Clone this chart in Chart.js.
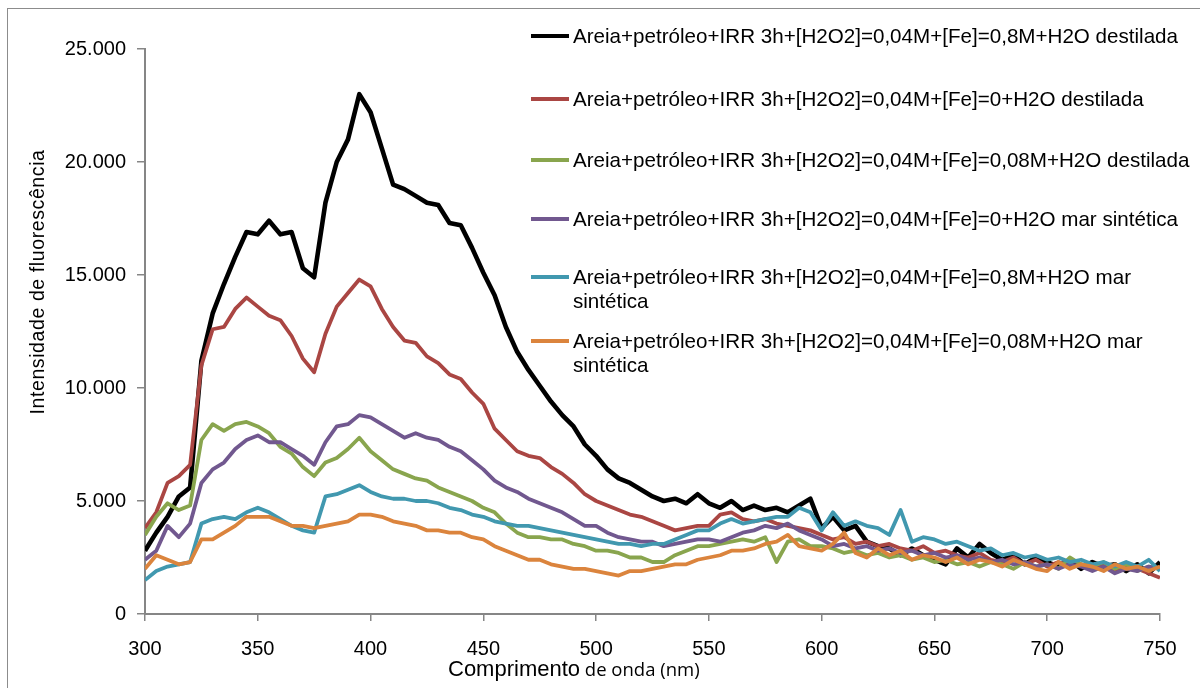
<!DOCTYPE html>
<html>
<head>
<meta charset="utf-8">
<script src="https://cdn.jsdelivr.net/npm/chart.js@4.4.0/dist/chart.umd.min.js"></script>
<style>
body{margin:0;background:#fff;}
#wrap{position:relative;width:1200px;height:688px;overflow:hidden;font-family:"Liberation Sans",Arial,sans-serif;}
#frame{position:absolute;left:7px;top:8px;width:1210px;height:700px;border:1.5px solid #8c8c8c;box-sizing:border-box;}
#chart{position:absolute;left:0;top:0;}
#legend{position:absolute;left:0;top:0;}
.item{position:absolute;left:531px;display:flex;align-items:flex-start;}
.swatch{width:38px;height:4px;margin-top:10px;margin-right:4px;flex:none;}
.lbl{font-size:20.6px;line-height:24px;width:622px;color:#000;}
#ytitle{position:absolute;left:-113px;top:270px;width:300px;text-align:center;font-size:19.5px;letter-spacing:0.6px;line-height:24px;transform:rotate(-90deg);color:#000;}
#xtitle{position:absolute;left:448px;top:656px;line-height:26px;white-space:nowrap;color:#000;}
#xtitle .a{font-size:22px;}
#xtitle .b{font-family:"Open Sans",sans-serif;font-size:18.5px;}
</style>
</head>
<body>
<div id="wrap">
  <div id="frame"></div>
  <canvas id="chart" width="1200" height="688"></canvas>
  <div id="legend"></div>
  <div id="ytitle">Intensidade de fluorescência</div>
  <div id="xtitle"><span class="a">Comprimento</span><span class="b"> de onda (nm)</span></div>
</div>
<script>
// comprimento de onda (nm)
const wavelength = [300,305,310,315,320,325,330,335,340,345,350,355,360,365,370,375,380,385,390,395,
  400,405,410,415,420,425,430,435,440,445,450,455,460,465,470,475,480,485,490,495,
  500,505,510,515,520,525,530,535,540,545,550,555,560,565,570,575,580,585,590,595,
  600,605,610,615,620,625,630,635,640,645,650,655,660,665,670,675,680,685,690,695,
  700,705,710,715,720,725,730,735,740,745,750];

const fe08Destilada = [2800,3600,4300,5200,5600,11200,13300,14600,15800,16900,16800,17400,16800,16900,15300,14900,18200,20000,21000,23000,
  22200,20600,19000,18800,18500,18200,18100,17300,17200,16200,15100,14100,12700,11600,10800,10100,9400,8800,8300,7500,
  7000,6400,6000,5800,5500,5200,5000,5100,4900,5300,4900,4700,5000,4600,4800,4600,4700,4500,4800,5100,
  3800,4300,3700,3900,3200,3000,2900,2600,2900,2600,2400,2200,2900,2500,3100,2700,2400,2600,2200,2500,
  2300,2100,2400,2000,2300,2100,2200,1900,2200,1800,2300];

const fe0Destilada = [3800,4500,5800,6100,6600,11000,12600,12700,13500,14000,13600,13200,13000,12300,11300,10700,12400,13600,14200,14800,
  14500,13500,12700,12100,12000,11400,11100,10600,10400,9800,9300,8200,7700,7200,7000,6900,6500,6200,5800,5300,
  5000,4800,4600,4400,4300,4100,3900,3700,3800,3900,3900,4400,4500,4200,4100,4200,4000,3900,3800,3700,
  3500,3300,3400,3100,3200,3000,3100,2900,2800,3000,2700,2800,2600,2500,2700,2400,2300,2500,2200,2400,
  2100,2300,2100,2200,2000,2200,1900,2100,2000,1800,1600];

const fe008Destilada = [3500,4300,4900,4600,4800,7700,8400,8100,8400,8500,8300,8000,7400,7100,6500,6100,6700,6900,7300,7800,
  7200,6800,6400,6200,6000,5900,5600,5400,5200,5000,4700,4500,4000,3600,3400,3400,3300,3300,3100,3000,
  2800,2800,2700,2500,2500,2300,2300,2600,2800,3000,3000,3100,3200,3300,3200,3400,2300,3200,3300,3000,
  3000,2900,2700,2800,2600,2700,2500,2600,2400,2500,2300,2400,2200,2300,2100,2300,2200,2000,2300,2100,
  2200,2000,2500,2200,2100,2300,2000,2200,1900,2100,2000];

const fe0Mar = [2400,2800,3900,3400,4000,5800,6400,6700,7300,7700,7900,7600,7600,7300,7000,6600,7600,8300,8400,8800,
  8700,8400,8100,7800,8000,7800,7700,7400,7200,6800,6400,5900,5600,5400,5100,4900,4700,4500,4200,3900,
  3900,3600,3400,3300,3200,3200,3000,3100,3200,3300,3300,3200,3400,3600,3700,3900,3800,4000,3700,3500,
  3300,3000,3100,2900,3000,2800,2900,2700,2800,2600,2700,2500,2600,2400,2500,2300,2400,2200,2300,2100,
  2200,2000,2200,2100,1900,2100,1800,2000,1900,2100,2000];

const fe08Mar = [1500,1900,2100,2200,2300,4000,4200,4300,4200,4500,4700,4500,4200,3900,3700,3600,5200,5300,5500,5700,
  5400,5200,5100,5100,5000,5000,4900,4700,4600,4400,4300,4100,4000,3900,3900,3800,3700,3600,3500,3400,
  3300,3200,3100,3100,3000,3100,3100,3300,3500,3700,3700,4000,4200,4000,4100,4200,4300,4300,4700,4500,
  3700,4500,3900,4100,3900,3800,3500,4600,3200,3400,3300,3100,3200,3000,2800,2900,2600,2700,2500,2600,
  2400,2500,2300,2400,2200,2300,2100,2300,2100,2400,1900];

const fe008Mar = [2000,2600,2400,2200,2300,3300,3300,3600,3900,4300,4300,4300,4100,3900,3900,3800,3900,4000,4100,4400,
  4400,4300,4100,4000,3900,3700,3700,3600,3600,3400,3300,3000,2800,2600,2400,2400,2200,2100,2000,2000,
  1900,1800,1700,1900,1900,2000,2100,2200,2200,2400,2500,2600,2800,2800,2900,3100,3200,3500,3000,2900,
  2800,3100,3600,2700,2500,2900,2600,2800,2400,2600,2500,2300,2500,2200,2400,2300,2100,2400,2200,2000,
  1900,2300,2000,2200,2100,1900,2200,2000,2100,1900,2100];

const seriesLabels = [
  'Areia+petróleo+IRR 3h+[H2O2]=0,04M+[Fe]=0,8M+H2O destilada',
  'Areia+petróleo+IRR 3h+[H2O2]=0,04M+[Fe]=0+H2O destilada',
  'Areia+petróleo+IRR 3h+[H2O2]=0,04M+[Fe]=0,08M+H2O destilada',
  'Areia+petróleo+IRR 3h+[H2O2]=0,04M+[Fe]=0+H2O mar sintética',
  'Areia+petróleo+IRR 3h+[H2O2]=0,04M+[Fe]=0,8M+H2O mar sintética',
  'Areia+petróleo+IRR 3h+[H2O2]=0,04M+[Fe]=0,08M+H2O mar sintética'
];
const seriesValues = [fe08Destilada, fe0Destilada, fe008Destilada, fe0Mar, fe08Mar, fe008Mar];
const seriesColors = ['#000000','#AA4643','#89A54E','#71588F','#4198AF','#DB843D'];

const yTickValues = [0,5000,10000,15000,20000,25000];
const yTickLabels = ['0','5.000','10.000','15.000','20.000','25.000'];

const axisGray = '#868686';
const tickFont = {family:'"Liberation Sans", Arial, sans-serif', size:20};

const datasets = seriesValues.map((vals, i) => ({
  label: seriesLabels[i],
  data: vals.map((v, j) => ({x: wavelength[j], y: v})),
  borderColor: seriesColors[i],
  backgroundColor: seriesColors[i],
  borderWidth: i === 0 ? 4.6 : 3.8,
  borderJoinStyle: 'round',
  pointRadius: 0,
  tension: 0,
  fill: false,
  order: seriesValues.length - i
}));

const chart = new Chart(document.getElementById('chart').getContext('2d'), {
  type: 'line',
  data: { datasets },
  options: {
    responsive: false,
    animation: false,
    layout: { padding: { left: 0, right: 40, top: 49, bottom: 0 } },
    plugins: { legend: { display: false }, tooltip: { enabled: false } },
    scales: {
      x: {
        type: 'linear', min: 300, max: 750,
        ticks: { stepSize: 50, color: '#000', font: tickFont, padding: 16, maxRotation: 0 },
        grid: { drawOnChartArea: false, drawTicks: true, tickLength: 7, color: axisGray, lineWidth: 1.5 },
        border: { display: true, color: axisGray, width: 2 },
        afterFit: s => { s.height = 74; }
      },
      y: {
        min: 0, max: 25000,
        ticks: { stepSize: 5000, color: '#000', font: tickFont, padding: 11,
                 callback: v => yTickLabels[yTickValues.indexOf(v)] },
        grid: { drawOnChartArea: false, drawTicks: true, tickLength: 8, color: axisGray, lineWidth: 1.5 },
        border: { display: true, color: axisGray, width: 2 },
        afterFit: s => { s.width = 145; }
      }
    }
  }
});

// legenda
const legendRowCenter = [36, 99, 160, 219, 277, 341];
const legend = document.getElementById('legend');
chart.data.datasets.forEach((ds, i) => {
  const item = document.createElement('div');
  item.className = 'item';
  item.style.top = (legendRowCenter[i] - 12) + 'px';
  const sw = document.createElement('div');
  sw.className = 'swatch';
  sw.style.background = ds.borderColor;
  const lbl = document.createElement('div');
  lbl.className = 'lbl';
  lbl.textContent = ds.label;
  item.appendChild(sw);
  item.appendChild(lbl);
  legend.appendChild(item);
});
</script>
</body>
</html>
